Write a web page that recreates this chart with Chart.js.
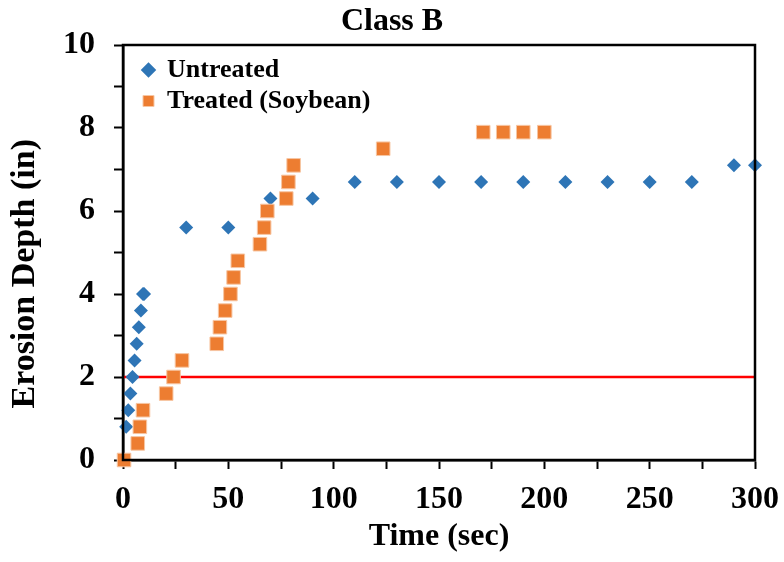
<!DOCTYPE html>
<html lang="en">
  <head>
    <meta charset="UTF-8" />
    <title>Class B</title>
    <script src="https://cdn.jsdelivr.net/npm/chart.js"></script>
    <style>
      body { margin: 0; background: #fff; }
    </style>
  </head>
  <body>
    <div style="width: 784px; height: 562px">
      <canvas id="myChart" width="784" height="562"></canvas>
    </div>

    <script>
      // untreated soil
      const untreatedTime = [1.5, 2.5, 3.5, 4.5, 5.5, 6.5, 7.5, 8.5, 9.5, 10, 30, 50, 70, 90, 110, 130, 150, 170, 190, 210, 230, 250, 270, 290, 300];
      const untreatedDepth = [0.8, 1.2, 1.6, 2.0, 2.4, 2.8, 3.2, 3.6, 4.0, 4.0, 5.6, 5.6, 6.3, 6.3, 6.7, 6.7, 6.7, 6.7, 6.7, 6.7, 6.7, 6.7, 6.7, 7.1, 7.1];

      // treated (soybean)
      const treatedTime = [0.5, 7, 8, 9.5, 20.5, 24, 28, 44.5, 46, 48.5, 51, 52.5, 54.5, 65, 67, 68.5, 77.5, 78.5, 81, 123.5, 171, 180.5, 190, 200];
      const treatedDepth = [0, 0.4, 0.8, 1.2, 1.6, 2.0, 2.4, 2.8, 3.2, 3.6, 4.0, 4.4, 4.8, 5.2, 5.6, 6.0, 6.3, 6.7, 7.1, 7.5, 7.9, 7.9, 7.9, 7.9];

      // red reference line
      const limitTime = [0, 300];
      const limitDepth = [2, 2];

      const toPoints = (xs, ys) => xs.map((x, i) => ({ x: x, y: ys[i] }));

      const serif = "'Liberation Serif', 'Times New Roman', serif";

      // box round the plot area
      const plotBox = {
        id: "plotBox",
        afterDraw(chart) {
          const a = chart.chartArea;
          const ctx = chart.ctx;
          ctx.save();
          ctx.strokeStyle = "#000";
          ctx.lineWidth = 2.5;
          ctx.strokeRect(a.left, a.top, a.right - a.left, a.bottom - a.top);
          ctx.restore();
        },
      };

      // put the legend in the top left corner of the plot
      const legendShift = {
        id: "legendShift",
        afterLayout(chart) {
          chart.legend.left = chart.chartArea.left + 15;
          chart.legend.top = chart.chartArea.top + 7;
        },
      };

      const data = {
        datasets: [
          {
            label: "Untreated",
            data: toPoints(untreatedTime, untreatedDepth),
            pointStyle: "rectRot",
            pointRadius: 7,
            pointHoverRadius: 7,
            backgroundColor: "#2E75B6",
            borderColor: "#2E75B6",
            borderWidth: 0,
            order: 2,
            clip: false,
          },
          {
            label: "Treated (Soybean)",
            data: toPoints(treatedTime, treatedDepth),
            pointStyle: "rect",
            pointRadius: 9.6,
            pointHoverRadius: 9.6,
            backgroundColor: "#ED7D31",
            borderColor: "#F7C6A3",
            borderWidth: 1,
            order: 1,
            clip: false,
          },
          {
            type: "line",
            label: "limit",
            data: toPoints(limitTime, limitDepth),
            borderColor: "#FF0000",
            borderWidth: 2.5,
            pointRadius: 0,
            order: 3,
          },
        ],
      };

      const options = {
        responsive: false,
        animation: false,
        layout: { padding: 0 },
        plugins: {
          title: {
            display: true,
            text: "Class B",
            color: "#000",
            font: { family: serif, size: 32, weight: "bold" },
            padding: { top: 3, bottom: 3.6 },
          },
          legend: {
            position: "chartArea",
            align: "start",
            labels: {
              usePointStyle: true,
              boxWidth: 11,
              boxHeight: 11,
              padding: 5,
              color: "#000",
              font: { family: serif, size: 26, weight: "bold" },
              filter: (item) => item.text !== "limit",
              sort: (a, b) => a.datasetIndex - b.datasetIndex,
            },
          },
          tooltip: { enabled: false },
        },
        scales: {
          x: {
            type: "linear",
            min: 0,
            max: 300,
            border: { display: true, color: "#000", width: 2.5 },
            grid: { drawOnChartArea: false, drawTicks: true, tickLength: 9, tickWidth: 2, tickColor: "#000" },
            ticks: {
              stepSize: 25,
              autoSkip: false,
              maxRotation: 0,
              padding: 12,
              color: "#000",
              font: { family: serif, size: 32, weight: "bold" },
              callback: (v) => (v % 50 === 0 ? v : ""),
            },
            title: {
              display: true,
              text: "Time (sec)",
              color: "#000",
              font: { family: serif, size: 32, weight: "bold" },
              padding: { top: 0, bottom: 6 },
            },
            afterFit(scale) {
              scale.height = 102;
              scale.paddingRight = 29;
            },
          },
          y: {
            min: 0,
            max: 10,
            border: { display: true, color: "#000", width: 2.5 },
            grid: { drawOnChartArea: false, drawTicks: true, tickLength: 9, tickWidth: 2, tickColor: "#000" },
            ticks: {
              stepSize: 1,
              padding: 19,
              color: "#000",
              font: { family: serif, size: 32, weight: "bold" },
              callback: (v) => (v % 2 === 0 ? v : ""),
            },
            title: {
              display: true,
              text: "Erosion Depth (in)     ",
              color: "#000",
              font: { family: serif, size: 34, weight: "bold" },
              padding: { top: 5, bottom: 0 },
            },
            afterFit(scale) {
              scale.width = 123;
            },
          },
        },
      };

      const ctx = document.querySelector("#myChart").getContext("2d");
      const myChart = new Chart(ctx, {
        type: "scatter",
        data: data,
        options: options,
        plugins: [plotBox, legendShift],
      });
    </script>
  </body>
</html>
